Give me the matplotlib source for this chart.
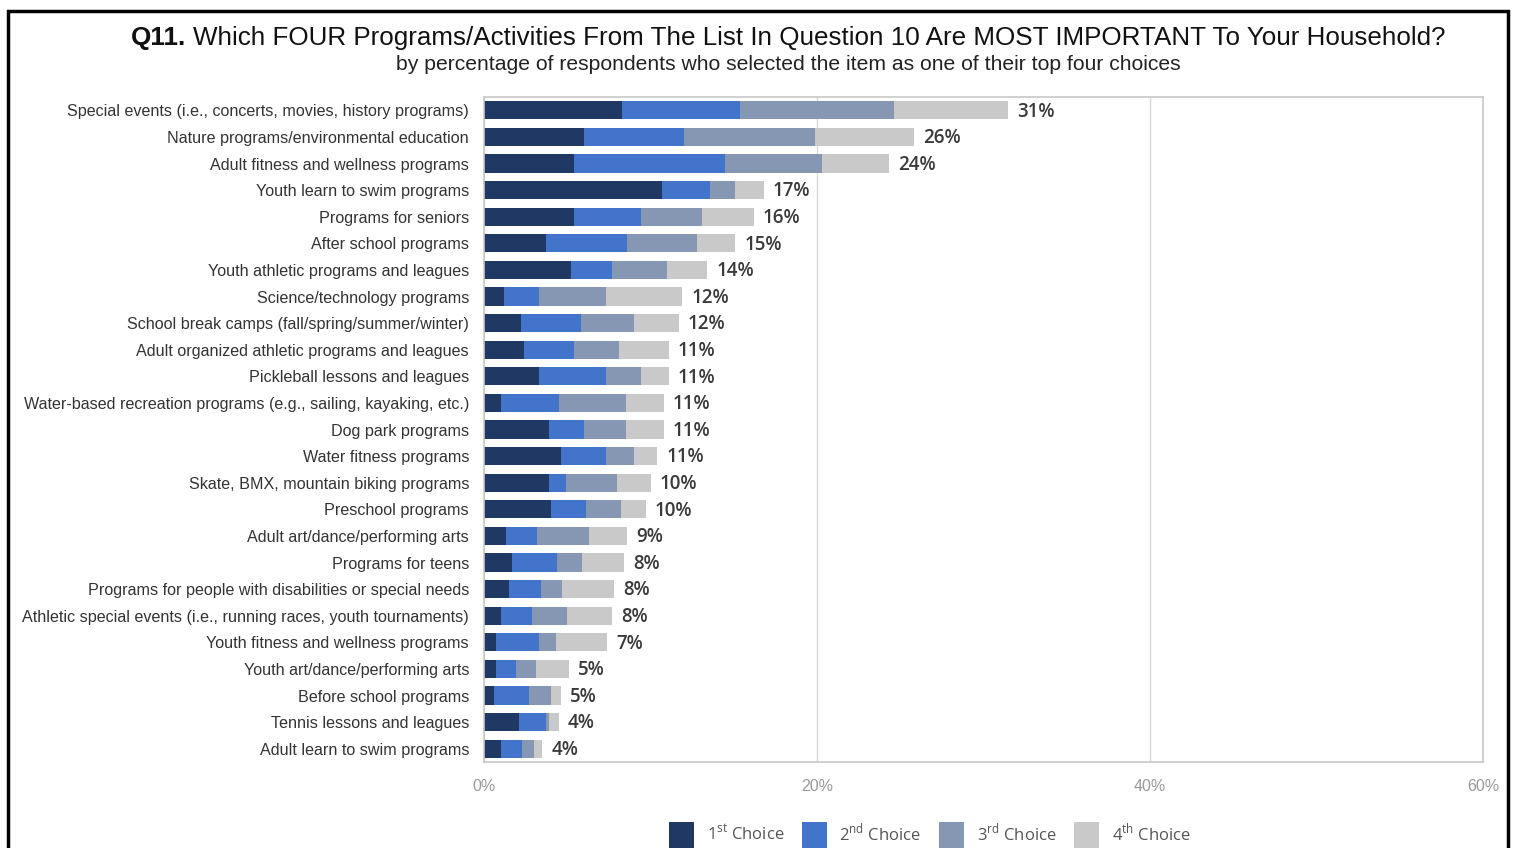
import matplotlib
matplotlib.use("Agg")
import matplotlib.pyplot as plt
from matplotlib.patches import Rectangle
import numpy as np

categories = [
    "Special events (i.e., concerts, movies, history programs)",
    "Nature programs/environmental education",
    "Adult fitness and wellness programs",
    "Youth learn to swim programs",
    "Programs for seniors",
    "After school programs",
    "Youth athletic programs and leagues",
    "Science/technology programs",
    "School break camps (fall/spring/summer/winter)",
    "Adult organized athletic programs and leagues",
    "Pickleball lessons and leagues",
    "Water-based recreation programs (e.g., sailing, kayaking, etc.)",
    "Dog park programs",
    "Water fitness programs",
    "Skate, BMX, mountain biking programs",
    "Preschool programs",
    "Adult art/dance/performing arts",
    "Programs for teens",
    "Programs for people with disabilities or special needs",
    "Athletic special events (i.e., running races, youth tournaments)",
    "Youth fitness and wellness programs",
    "Youth art/dance/performing arts",
    "Before school programs",
    "Tennis lessons and leagues",
    "Adult learn to swim programs",
]

first_choice = [8.3, 6.0, 5.4, 10.7, 5.4, 3.7, 5.2, 1.2, 2.2, 2.4, 3.3, 1.0, 3.9, 4.6, 3.9, 4.0,
                1.3, 1.7, 1.5, 1.0, 0.7, 0.7, 0.6, 2.1, 1.0]
second_choice = [7.1, 6.0, 9.1, 2.9, 4.0, 4.9, 2.5, 2.1, 3.6, 3.0, 4.0, 3.5, 2.1, 2.7, 1.0, 2.1,
                 1.9, 2.7, 1.9, 1.9, 2.6, 1.2, 2.1, 1.6, 1.3]
third_choice = [9.2, 7.9, 5.8, 1.5, 3.7, 4.2, 3.3, 4.0, 3.2, 2.7, 2.1, 4.0, 2.5, 1.7, 3.1, 2.1,
                3.1, 1.5, 1.3, 2.1, 1.0, 1.2, 1.3, 0.2, 0.7]
fourth_choice = [6.9, 5.9, 4.0, 1.7, 3.1, 2.3, 2.4, 4.6, 2.7, 3.0, 1.7, 2.3, 2.3, 1.4, 2.0, 1.5,
                 2.3, 2.5, 3.1, 2.7, 3.1, 2.0, 0.6, 0.6, 0.5]
total_labels = ["31%", "26%", "24%", "17%", "16%", "15%", "14%", "12%", "12%", "11%", "11%", "11%",
                "11%", "11%", "10%", "10%", "9%", "8%", "8%", "8%", "7%", "5%", "5%", "4%", "4%"]

series_names = [r"1$^{\mathregular{st}}$ Choice", r"2$^{\mathregular{nd}}$ Choice",
                r"3$^{\mathregular{rd}}$ Choice", r"4$^{\mathregular{th}}$ Choice"]
colors = ["#1f3864", "#4374cc", "#8597b2", "#c9c9c9"]

x_ticks = [0, 20, 40, 60]
x_tick_labels = ["0%", "20%", "40%", "60%"]

plt.rcParams['font.family'] = ['Liberation Sans', 'DejaVu Sans']

W, H = 1513, 848
fig = plt.figure(figsize=(W / 100, H / 100), dpi=100)
fig.patch.set_facecolor("white")

ax = fig.add_axes([484 / W, 1 - 762 / H, (1483 - 484) / W, (762 - 97) / H])

y = np.arange(len(categories))
left = np.zeros(len(categories))
series = [first_choice, second_choice, third_choice, fourth_choice]
handles = []
for vals, col, name in zip(series, colors, series_names):
    vals = np.array(vals)
    b = ax.barh(y, vals, left=left, height=0.68, color=col, label=name, edgecolor="none")
    handles.append(b)
    left = left + vals

for yi, tot, lab in zip(y, left, total_labels):
    ax.text(tot + 0.55, yi + 0.05, lab, va="center", ha="left", fontsize=13.5, fontweight="semibold",
            color="#3a3a3a", family=["Open Sans", "DejaVu Sans"])

ax.set_ylim(len(categories) - 0.5, -0.5)
ax.set_xlim(0, 60)
ax.set_xticks(x_ticks)
ax.set_xticklabels(x_tick_labels, fontsize=11.5, color="#999999")
ax.set_yticks(y)
ax.set_yticklabels(categories, fontsize=11.6, color="#333333")
ax.tick_params(axis="both", length=0)
ax.tick_params(axis="x", pad=12)
ax.tick_params(axis="y", pad=10.8)
ax.grid(axis="x", color="#d9d9d9", linewidth=1)
ax.set_axisbelow(True)
for s in ax.spines.values():
    s.set_color("#c8c8c8")
    s.set_linewidth(1.2)

# Title
fig.text(131 / W, 1 - 38 / H, "Q11.", fontsize=18.7, fontweight="bold", ha="left", va="center",
         color="#111111")
fig.text(193 / W, 1 - 38 / H, "Which FOUR Programs/Activities From The List In Question 10 Are MOST IMPORTANT To Your Household?",
         fontsize=18.7, ha="left", va="center", color="#111111")
fig.text(788 / W, 1 - 65 / H, "by percentage of respondents who selected the item as one of their top four choices",
         fontsize=15.2, ha="center", va="center", color="#222222")

# Legend
leg = fig.legend(handles=handles, labels=series_names, loc="center", ncol=4,
                 bbox_to_anchor=(930 / W, 1 - 835 / H), frameon=False,
                 handlelength=1.5, handleheight=2.0, handletextpad=0.75, columnspacing=1.08,
                 prop={"family": ["Open Sans", "DejaVu Sans"], "size": 12})
for t in leg.get_texts():
    t.set_color("#555555")

# Outer black frame
fig.patches.append(Rectangle((8 / W, -0.05), (1508 - 8) / W, 1.05 - 11 / H,
                             transform=fig.transFigure, fill=False, edgecolor="black",
                             linewidth=2.5))

fig.savefig("out.png", dpi=100)
